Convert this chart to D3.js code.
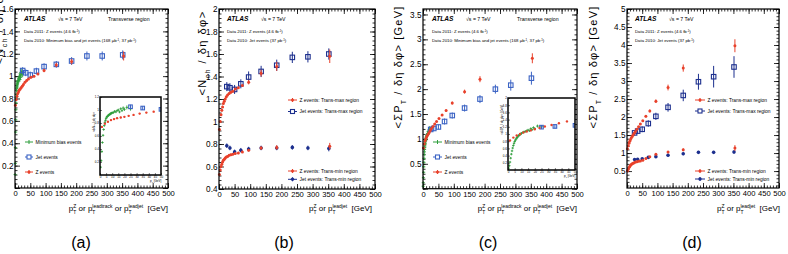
<!DOCTYPE html>
<html>
<head>
<meta charset="utf-8">
<script src="https://cdn.jsdelivr.net/npm/d3@7"></script>
<style>
body { margin: 0; background: #fff; }
svg { display: block; }
text { font-family: "Liberation Sans", Arial, sans-serif; white-space: pre; }
</style>
</head>
<body>
<div id="chart"></div>
<script>
// ---- data ----
// minimum bias events, binned in leading track pT
const mbX    = [0.5,1,1.5,2,2.5,3,3.5,4,4.5,5,5.5,6,6.5,7,7.5,8,8.5,9,9.5,10,11,12,13,14,15,16,17,18,19,20,22,25];
const mbXerr = [0.25,0.25,0.25,0.25,0.25,0.25,0.25,0.25,0.25,0.25,0.25,0.25,0.25,0.25,0.25,0.25,0.25,0.25,0.25,0.25,0.5,0.5,0.5,0.5,0.5,0.5,0.5,0.5,0.5,0.5,1,1.5];
const mbN    = [0.12,0.22,0.36,0.50,0.61,0.70,0.76,0.81,0.84,0.87,0.89,0.90,0.91,0.92,0.93,0.93,0.94,0.95,0.95,0.96,0.96,0.98,0.97,0.99,1.00,0.97,1.02,0.99,1.03,1.01,1.04,1.02];
const mbNerr = [0.01,0.01,0.01,0.01,0.01,0.01,0.01,0.01,0.01,0.01,0.01,0.01,0.01,0.01,0.01,0.01,0.01,0.01,0.01,0.01,0.015,0.015,0.015,0.015,0.02,0.02,0.02,0.02,0.025,0.025,0.03,0.03];
const mbPt    = [0.05,0.12,0.22,0.33,0.44,0.53,0.61,0.68,0.74,0.79,0.83,0.86,0.89,0.91,0.94,0.96,0.97,0.99,1.00,1.02,1.04,1.06,1.07,1.09,1.11,1.09,1.15,1.12,1.18,1.15,1.22,1.20];
const mbPtErr = [0.01,0.01,0.01,0.01,0.01,0.01,0.01,0.01,0.01,0.01,0.01,0.01,0.01,0.01,0.01,0.01,0.01,0.01,0.01,0.01,0.02,0.02,0.02,0.02,0.02,0.02,0.03,0.03,0.03,0.03,0.04,0.04];

// jet events, binned in leading jet pT
const jetX      = [25, 35, 50, 70, 95, 135, 185, 235, 285, 352];
const jetN      = [1.05, 1.03, 1.01, 1.045, 1.085, 1.105, 1.135, 1.18, 1.18, 1.19];
const jetNerr   = [0.03, 0.03, 0.03, 0.03, 0.03, 0.03, 0.035, 0.04, 0.04, 0.04];
const jetNmax   = [1.31, 1.30, 1.285, 1.335, 1.395, 1.445, 1.50, 1.57, 1.575, 1.60];
const jetNmaxE  = [0.04, 0.04, 0.04, 0.04, 0.05, 0.05, 0.05, 0.05, 0.05, 0.05];
const jetNmin   = [0.785, 0.765, 0.73, 0.745, 0.755, 0.765, 0.765, 0.77, 0.765, 0.76];
const jetNminE  = [0.02, 0.02, 0.02, 0.02, 0.02, 0.02, 0.02, 0.02, 0.02, 0.025];
const jetPt     = [1.19, 1.21, 1.24, 1.35, 1.47, 1.62, 1.80, 2.00, 2.08, 2.22];
const jetPtErr  = [0.05, 0.05, 0.05, 0.06, 0.06, 0.07, 0.08, 0.09, 0.11, 0.13];
const jetPtMax  = [1.56, 1.61, 1.66, 1.82, 2.02, 2.27, 2.60, 2.98, 3.12, 3.39];
const jetPtMaxE = [0.07, 0.07, 0.08, 0.09, 0.10, 0.12, 0.16, 0.22, 0.30, 0.30];
const jetPtMin  = [0.82, 0.83, 0.84, 0.88, 0.90, 0.94, 0.98, 1.02, 1.02, 1.03];
const jetPtMinE = [0.03, 0.03, 0.03, 0.03, 0.03, 0.04, 0.04, 0.04, 0.04, 0.05];

// Z events, binned in pT of the Z
const zX      = [1.5, 4, 6.5, 9, 11.5, 14, 17, 20, 23.5, 27.5, 32.5, 38, 44, 52, 62, 75, 95, 135, 185, 355];
const zN      = [0.74, 0.79, 0.82, 0.845, 0.86, 0.875, 0.885, 0.895, 0.91, 0.925, 0.945, 0.96, 0.975, 0.99, 1.0, 1.02, 1.05, 1.10, 1.13, 1.18];
const zNerr   = [0.01,0.01,0.01,0.01,0.01,0.01,0.01,0.01,0.01,0.01,0.01,0.01,0.01,0.01,0.01,0.01,0.015,0.02,0.025,0.04];
const zNmax   = [0.93, 1.0, 1.06, 1.10, 1.13, 1.16, 1.18, 1.20, 1.22, 1.235, 1.25, 1.26, 1.27, 1.29, 1.30, 1.32, 1.35, 1.43, 1.49, 1.58];
const zNmaxE  = [0.01,0.01,0.01,0.01,0.01,0.01,0.01,0.01,0.01,0.01,0.01,0.01,0.01,0.01,0.01,0.01,0.02,0.03,0.04,0.06];
const zNmin   = [0.53, 0.57, 0.60, 0.62, 0.64, 0.655, 0.665, 0.675, 0.685, 0.69, 0.70, 0.705, 0.71, 0.715, 0.72, 0.73, 0.745, 0.765, 0.77, 0.78];
const zNminE  = [0.01,0.01,0.01,0.01,0.01,0.01,0.01,0.01,0.01,0.01,0.01,0.01,0.01,0.01,0.01,0.01,0.01,0.015,0.02,0.03];
const zPt     = [0.82, 0.90, 0.96, 1.0, 1.04, 1.07, 1.10, 1.13, 1.17, 1.21, 1.25, 1.30, 1.35, 1.41, 1.48, 1.57, 1.72, 1.95, 2.20, 2.62];
const zPtErr  = [0.01,0.01,0.01,0.01,0.01,0.01,0.01,0.01,0.01,0.01,0.01,0.01,0.01,0.01,0.02,0.02,0.03,0.04,0.06,0.10];
const zPtMax  = [1.12, 1.20, 1.27, 1.33, 1.38, 1.42, 1.46, 1.50, 1.55, 1.60, 1.66, 1.73, 1.81, 1.90, 2.02, 2.17, 2.44, 2.82, 3.36, 3.98];
const zPtMaxE = [0.01,0.01,0.01,0.01,0.01,0.01,0.01,0.01,0.01,0.01,0.01,0.01,0.02,0.02,0.03,0.04,0.05,0.08,0.10,0.18];
const zPtMin  = [0.50, 0.55, 0.60, 0.63, 0.66, 0.68, 0.70, 0.72, 0.73, 0.75, 0.76, 0.77, 0.78, 0.80, 0.85, 0.90, 0.97, 1.03, 1.09, 1.14];
const zPtMinE = [0.01,0.01,0.01,0.01,0.01,0.01,0.01,0.01,0.01,0.01,0.01,0.01,0.01,0.01,0.01,0.01,0.02,0.03,0.04,0.08];

const xTicks = [0, 50, 100, 150, 200, 250, 300, 350, 400, 450, 500];

// ---- style ----
const RED = '#e8412b', GREEN = '#2f9e3c', BLUE = '#3b63c4', NAVY = '#1c2f8e';
const SANS = '"Liberation Sans", Arial, sans-serif';
const SERIF = '"Liberation Serif", "Times New Roman", serif';

const PANELS = {
    a: { xr: [15, 168], yr: [188, 9], yDom: [0, 1.6], yMaj: 0.2, yMin: 0.04, yLab: 0.2 },
    b: { xr: [219, 375], yr: [189, 9], yDom: [0.4, 2], yMaj: 0.2, yMin: 0.04, yLab: 0.4 },
    c: { xr: [423, 577], yr: [188.7, 9], yDom: [0, 3.61], yMaj: 0.5, yMin: 0.1, yLab: 0.5 },
    d: { xr: [627, 779], yr: [188, 9], yDom: [0.03, 5], yMaj: 0.5, yMin: 0.1, yLab: 0.5 }
};

const svg = d3.select('#chart').append('svg').attr('width', 788).attr('height', 254);
svg.append('rect').attr('width', 788).attr('height', 254).attr('fill', '#fff');

const fmtY = v => { const r = Math.round(v * 10) / 10; return Number.isInteger(r) ? String(r) : r.toFixed(1); };
function stepsIn(dom, step) {
    const out = [];
    for (let v = Math.ceil(dom[0] / step - 1e-6) * step; v <= dom[1] + 1e-6; v += step) out.push(Math.round(v * 1000) / 1000);
    return out;
}

function drawAxes(p) {
    const g = svg.append('g');
    const x = d3.scaleLinear().domain([0, 500]).range(p.xr);
    const y = d3.scaleLinear().domain(p.yDom).range(p.yr);
    const ax = (axis, tr, fs) => {
        const a = g.append('g').attr('transform', tr).call(axis);
        a.select('.domain').remove();
        a.attr('font-family', SANS).attr('font-size', fs || 7.5);
        a.selectAll('line').attr('stroke-width', 0.8);
        return a;
    };
    const xMin = d3.range(0, 501, 10);
    const yMajor = stepsIn(p.yDom, p.yMaj), yMinor = stepsIn(p.yDom, p.yMin);
    ax(d3.axisBottom(x).tickValues(xMin).tickSize(-2.5).tickFormat(''), `translate(0,${p.yr[0]})`);
    ax(d3.axisBottom(x).tickValues(xTicks).tickSize(-5).tickPadding(3).tickFormat(d3.format('d')), `translate(0,${p.yr[0]})`, 7.6);
    ax(d3.axisTop(x).tickValues(xMin).tickSize(-2.5).tickFormat(''), `translate(0,${p.yr[1]})`);
    ax(d3.axisTop(x).tickValues(xTicks).tickSize(-5).tickFormat(''), `translate(0,${p.yr[1]})`);
    ax(d3.axisLeft(y).tickValues(yMinor).tickSize(-2.5).tickFormat(''), `translate(${p.xr[0]},0)`);
    ax(d3.axisLeft(y).tickValues(yMajor).tickSize(-5).tickPadding(1.5).tickFormat(v => v >= p.yLab - 1e-6 ? fmtY(v) : ''), `translate(${p.xr[0]},0)`, 8.2);
    ax(d3.axisRight(y).tickValues(yMinor).tickSize(-2.5).tickFormat(''), `translate(${p.xr[1]},0)`);
    ax(d3.axisRight(y).tickValues(yMajor).tickSize(-5).tickFormat(''), `translate(${p.xr[1]},0)`);
    return { g, x, y };
}

function frameBox(g, p) {
    g.append('rect').attr('x', p.xr[0]).attr('y', p.yr[1])
        .attr('width', p.xr[1] - p.xr[0]).attr('height', p.yr[0] - p.yr[1])
        .attr('fill', 'none').attr('stroke', '#000').attr('stroke-width', 1.2);
}

function rows(xs, ys, es, xe) { return xs.map((v, i) => ({ x: v, y: ys[i], e: es[i], xe: xe ? xe[i] : 0 })); }

function errBars(g, d, x, y, color) {
    g.append('g').selectAll('line').data(d).join('line')
        .attr('x1', r => x(r.x)).attr('x2', r => x(r.x))
        .attr('y1', r => y(r.y - r.e)).attr('y2', r => y(r.y + r.e))
        .attr('stroke', color).attr('stroke-width', 1);
}

function dots(g, xs, ys, es, x, y, color, rad) {
    const d = rows(xs, ys, es);
    errBars(g, d, x, y, color);
    g.append('g').selectAll('circle').data(d).join('circle')
        .attr('cx', r => x(r.x)).attr('cy', r => y(r.y)).attr('r', rad).attr('fill', color);
}

function squares(g, xs, ys, es, x, y, color, s) {
    const d = rows(xs, ys, es);
    errBars(g, d, x, y, color);
    g.append('g').selectAll('rect').data(d).join('rect')
        .attr('x', r => x(r.x) - s / 2).attr('y', r => y(r.y) - s / 2)
        .attr('width', s).attr('height', s)
        .attr('fill', 'none').attr('stroke', color).attr('stroke-width', 1.1);
}

function crosses(g, xs, xe, ys, es, x, y, color, arm) {
    const d = rows(xs, ys, es, xe);
    const gg = g.append('g').attr('stroke', color).attr('stroke-width', 0.9);
    gg.selectAll('line.h').data(d).join('line').attr('class', 'h')
        .attr('x1', r => Math.min(x(r.x - r.xe), x(r.x) - arm)).attr('x2', r => Math.max(x(r.x + r.xe), x(r.x) + arm))
        .attr('y1', r => y(r.y)).attr('y2', r => y(r.y));
    gg.selectAll('line.v').data(d).join('line').attr('class', 'v')
        .attr('x1', r => x(r.x)).attr('x2', r => x(r.x))
        .attr('y1', r => Math.max(y(r.y - r.e), y(r.y) + arm)).attr('y2', r => Math.min(y(r.y + r.e), y(r.y) - arm));
}

// text with simple super/subscripts, laid out piece by piece
function rich(g, x, y, parts, size, spacing) {
    let cx = x;
    const sp = spacing || 0;
    const put = (t, yy, fs) => g.append('text').attr('x', cx).attr('y', yy).attr('font-size', fs)
        .attr('letter-spacing', sp).style('white-space', 'pre').text(t);
    parts.forEach(p => {
        if (typeof p === 'string') {
            const t = put(p, y, size);
            cx += t.node().getComputedTextLength();
        } else {
            let w = 0;
            if (p.sup) { const t = put(p.sup, y - size * 0.42, size * 0.62); w = Math.max(w, t.node().getComputedTextLength()); }
            if (p.sub) { const t = put(p.sub, y + size * 0.32, size * 0.62); w = Math.max(w, t.node().getComputedTextLength()); }
            cx += w;
        }
    });
    return cx - x;
}

function xTitle(xEnd, yBase, parts) {
    const g = svg.append('g');
    const w = rich(g, 0, 0, parts, 8);
    g.attr('transform', `translate(${xEnd - w},${yBase})`);
}

function yTitle(xBase, yCenter, parts, size, spacing) {
    const outer = svg.append('g').attr('transform', `translate(${xBase},${yCenter}) rotate(-90)`);
    const inner = outer.append('g');
    const w = rich(inner, 0, 0, parts, size, spacing);
    inner.attr('transform', `translate(${-w / 2},0)`);
}

// header block: ATLAS label, energy, optional region, data lines
function header(x, y, lines, region) {
    const g = svg.append('g');
    g.append('text').attr('x', x).attr('y', y).attr('font-size', 6.6)
        .attr('font-weight', 'bold').attr('font-style', 'italic').text('ATLAS');
    g.append('text').attr('x', x + 34).attr('y', y).attr('font-size', 5.2).text('\u221As = 7 TeV');
    if (region) g.append('text').attr('x', region).attr('y', y).attr('font-size', 5.2).text('Transverse region');
    lines.forEach((ln, i) => {
        const t = g.append('text').attr('x', x).attr('y', y + 12.8 + i * 9).attr('font-size', 4.3);
        let pendingDy = 0;
        ln.forEach(part => {
            if (typeof part === 'string') {
                t.append('tspan').attr('dy', pendingDy).text(part);
                pendingDy = 0;
            } else {
                t.append('tspan').attr('dy', -1.6).attr('font-size', 2.9).text(part.sup);
                pendingDy = 1.6;
            }
        });
    });
}

function legendEntry(x0, x1, yc, kind, color, label) {
    const g = svg.append('g');
    const xm = (x0 + x1) / 2;
    g.append('line').attr('x1', x0).attr('x2', x1).attr('y1', yc).attr('y2', yc).attr('stroke', color).attr('stroke-width', 1);
    g.append('line').attr('x1', xm).attr('x2', xm).attr('y1', yc - 2).attr('y2', yc + 2).attr('stroke', color).attr('stroke-width', 1);
    if (kind === 'dot') g.append('circle').attr('cx', xm).attr('cy', yc).attr('r', 1.5).attr('fill', color);
    if (kind === 'fdot') g.append('circle').attr('cx', xm).attr('cy', yc).attr('r', 1.7).attr('fill', color);
    if (kind === 'square') g.append('rect').attr('x', xm - 2).attr('y', yc - 2).attr('width', 4).attr('height', 4)
        .attr('fill', '#fff').attr('stroke', color).attr('stroke-width', 1.1);
    g.append('text').attr('x', x1 + 2.5).attr('y', yc + 1.8).attr('font-size', 4.9).text(label);
}

function inset(box, yDom, yTicks, id, yParts) {
    const g = svg.append('g');
    g.append('rect').attr('x', box[0]).attr('y', box[1]).attr('width', box[2] - box[0]).attr('height', box[3] - box[1]).attr('fill', '#fff');
    const x = d3.scaleLinear().domain([0, 50]).range([box[0], box[2]]);
    const y = d3.scaleLinear().domain(yDom).range([box[3], box[1]]);
    const ax = (axis, tr) => {
        const a = g.append('g').attr('transform', tr).call(axis);
        a.select('.domain').remove();
        a.attr('font-family', SANS).attr('font-size', 3);
        a.selectAll('line').attr('stroke-width', 0.5);
    };
    ax(d3.axisBottom(x).tickValues(d3.range(0, 51, 5)).tickSize(-2).tickPadding(1).tickFormat(d3.format('d')), `translate(0,${box[3]})`);
    ax(d3.axisLeft(y).tickValues(yTicks).tickSize(-2).tickPadding(1).tickFormat(fmtY), `translate(${box[0]},0)`);
    svg.append('clipPath').attr('id', id).append('rect')
        .attr('x', box[0]).attr('y', box[1]).attr('width', box[2] - box[0]).attr('height', box[3] - box[1]);
    const plot = g.append('g').attr('clip-path', `url(#${id})`);
    const t = g.append('g').attr('transform', `translate(${box[2] - 11},${box[3] + 7})`);
    rich(t, 0, 0, ['p', { sub: 'T' }, ' [GeV]'], 3);
    const yt = svg.append('g').attr('transform', `translate(${box[0] - 5.5},${(box[1] + box[3]) / 2 - 14}) rotate(-90)`);
    const inner = yt.append('g');
    const w = rich(inner, 0, 0, yParts, 3);
    inner.attr('transform', `translate(${-w / 2},0)`);
    return { g, plot, x, y, box };
}

function insetFrame(I) {
    I.g.append('rect').attr('x', I.box[0]).attr('y', I.box[1]).attr('width', I.box[2] - I.box[0]).attr('height', I.box[3] - I.box[1])
        .attr('fill', 'none').attr('stroke', '#000').attr('stroke-width', 1.5);
}

const xParts3 = ['p', { sup: 'Z', sub: 'T' }, ' or p', { sup: 'leadtrack', sub: 'T' }, ' or p', { sup: 'leadjet', sub: 'T' }, '  [GeV]'];
const xParts2 = ['p', { sup: 'Z', sub: 'T' }, ' or p', { sup: 'leadjet', sub: 'T' }, '  [GeV]'];
const nchParts = ['<N', { sub: 'ch' }, ' / \u03B4\u03B7 \u03B4\u03C6>'];
const ptParts = ['<\u03A3P', { sub: 'T' }, ' / \u03B4\u03B7 \u03B4\u03C6> [GeV]'];

// ---- panel (a) ----
{
    const p = PANELS.a, A = drawAxes(p);
    crosses(A.g, mbX, mbXerr, mbN, mbNerr, A.x, A.y, GREEN, 1.6);
    squares(A.g, jetX, jetN, jetNerr, A.x, A.y, BLUE, 4.5);
    dots(A.g, zX, zN, zNerr, A.x, A.y, RED, 1.5);
    frameBox(A.g, p);
    const I = inset([100, 97, 161, 175], [0, 1.2], [0.2, 0.4, 0.6, 0.8, 1, 1.2], 'clipA', ['<d\u00B2N', { sub: 'ch' }, ' / d\u03B7 d\u03C6>']);
    crosses(I.plot, mbX, mbXerr, mbN, mbNerr, I.x, I.y, GREEN, 1.2);
    squares(I.plot, jetX, jetN, jetNerr, I.x, I.y, BLUE, 3.6);
    dots(I.plot, zX, zN, zNerr, I.x, I.y, RED, 1.2);
    insetFrame(I);
    header(24, 20.5, [['Data 2011: Z events (4.6 fb', { sup: '-1' }, ')'],
        ['Data 2010: Minimum bias and jet events (168 \u03BCb', { sup: '-1' }, ', 37 pb', { sup: '-1' }, ')']], 108);
    legendEntry(25, 33, 142, 'cross', GREEN, 'Minimum bias events');
    legendEntry(25, 33, 157, 'square', BLUE, 'Jet events');
    legendEntry(25, 33, 172, 'dot', RED, 'Z events');
    xTitle(168, 211, xParts3);
    yTitle(3, 22, nchParts, 11, 1.5);
}

// ---- panel (b) ----
{
    const p = PANELS.b, B = drawAxes(p);
    squares(B.g, jetX, jetNmax, jetNmaxE, B.x, B.y, NAVY, 4.5);
    dots(B.g, jetX, jetNmin, jetNminE, B.x, B.y, NAVY, 1.8);
    dots(B.g, zX, zNmax, zNmaxE, B.x, B.y, RED, 1.5);
    dots(B.g, zX, zNmin, zNminE, B.x, B.y, RED, 1.5);
    frameBox(B.g, p);
    header(227, 20.5, [['Data 2011: Z events (4.6 fb', { sup: '-1' }, ')'],
        ['Data 2010: Jet events (37 pb', { sup: '-1' }, ')']], null);
    legendEntry(288, 297, 100, 'dot', RED, 'Z events: Trans-max region');
    legendEntry(288, 297, 111.5, 'square', NAVY, 'Jet events: Trans-max region');
    legendEntry(288, 297, 171, 'dot', RED, 'Z events: Trans-min region');
    legendEntry(288, 297, 179.3, 'fdot', NAVY, 'Jet events: Trans-min region');
    xTitle(372, 211, xParts2);
    yTitle(206, 53, nchParts, 11, 1.5);
}

// ---- panel (c) ----
{
    const p = PANELS.c, C = drawAxes(p);
    crosses(C.g, mbX, mbXerr, mbPt, mbPtErr, C.x, C.y, GREEN, 1.6);
    squares(C.g, jetX, jetPt, jetPtErr, C.x, C.y, BLUE, 4.5);
    dots(C.g, zX, zPt, zPtErr, C.x, C.y, RED, 1.5);
    frameBox(C.g, p);
    const I = inset([508, 98, 575, 170], [0, 2], [0.2, 0.4, 0.6, 0.8, 1, 1.2, 1.4, 1.6, 1.8, 2], 'clipC', ['<d\u00B2\u03A3P', { sub: 'T' }, ' / d\u03B7 d\u03C6> [GeV]']);
    crosses(I.plot, mbX, mbXerr, mbPt, mbPtErr, I.x, I.y, GREEN, 1.2);
    squares(I.plot, jetX, jetPt, jetPtErr, I.x, I.y, BLUE, 3.6);
    dots(I.plot, zX, zPt, zPtErr, I.x, I.y, RED, 1.2);
    insetFrame(I);
    header(432, 20.5, [['Data 2011: Z events (4.6 fb', { sup: '-1' }, ')'],
        ['Data 2010: Minimum bias and jet events (168 \u03BCb', { sup: '-1' }, ', 37 pb', { sup: '-1' }, ')']], 517);
    legendEntry(433, 442, 142, 'cross', GREEN, 'Minimum bias events');
    legendEntry(433, 442, 157, 'square', BLUE, 'Jet events');
    legendEntry(433, 442, 172, 'dot', RED, 'Z events');
    xTitle(577, 211, xParts3);
    yTitle(402, 67, ptParts, 11, 1.2);
}

// ---- panel (d) ----
{
    const p = PANELS.d, D = drawAxes(p);
    squares(D.g, jetX, jetPtMax, jetPtMaxE, D.x, D.y, NAVY, 4.5);
    dots(D.g, jetX, jetPtMin, jetPtMinE, D.x, D.y, NAVY, 1.8);
    dots(D.g, zX, zPtMax, zPtMaxE, D.x, D.y, RED, 1.5);
    dots(D.g, zX, zPtMin, zPtMinE, D.x, D.y, RED, 1.5);
    frameBox(D.g, p);
    header(635, 20.5, [['Data 2011: Z events (4.6 fb', { sup: '-1' }, ')'],
        ['Data 2010: Jet events (37 pb', { sup: '-1' }, ')']], null);
    legendEntry(695, 705, 100, 'dot', RED, 'Z events: Trans-max region');
    legendEntry(695, 705, 111, 'square', NAVY, 'Jet events: Trans-max region');
    legendEntry(695, 705, 171, 'dot', RED, 'Z events: Trans-min region');
    legendEntry(695, 705, 179, 'fdot', NAVY, 'Jet events: Trans-min region');
    xTitle(780, 211, xParts2);
    yTitle(597, 67, ptParts, 11, 1.2);
}

// ---- captions ----
[['(a)', 81], ['(b)', 284], ['(c)', 488], ['(d)', 692]].forEach(([t, x]) => {
    svg.append('text').attr('x', x).attr('y', 248).attr('text-anchor', 'middle')
        .attr('font-family', SERIF).attr('font-size', 16).text(t);
});
</script>
</body>
</html>
